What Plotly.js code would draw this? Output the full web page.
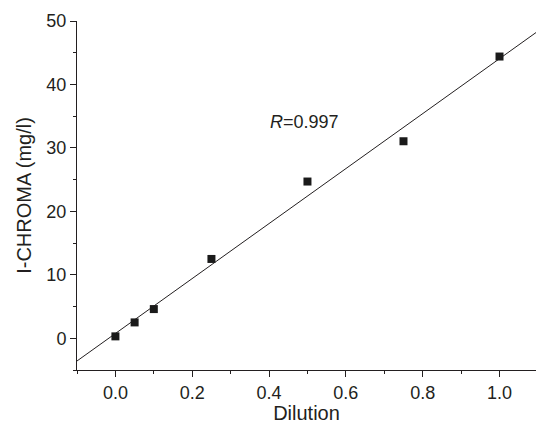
<!DOCTYPE html>
<html>
<head>
<meta charset="utf-8">
<script src="https://cdn.plot.ly/plotly-3.0.1.min.js"></script>
<style>html,body{margin:0;padding:0;background:#fff;}#chart{width:536px;height:424px;}</style>
</head>
<body>
<div id="chart"></div>
<script>
// Data
const dilution = [0, 0.05, 0.1, 0.25, 0.5, 0.75, 1.0];
const chroma = [0.3, 2.5, 4.6, 12.5, 24.7, 31.05, 44.4];
const fitSpan = [-0.1, 1.1];
const rLabel = "<i>R</i>=0.997";

// least-squares fit of the data
const n = dilution.length;
const mx = dilution.reduce((a, b) => a + b, 0) / n;
const my = chroma.reduce((a, b) => a + b, 0) / n;
let sxy = 0, sxx = 0;
for (let i = 0; i < n; i++) {
  sxy += (dilution[i] - mx) * (chroma[i] - my);
  sxx += (dilution[i] - mx) * (dilution[i] - mx);
}
const slope = sxy / sxx;
const intercept = my - slope * mx;
const fitY = fitSpan.map(x => intercept + slope * x);

const ink = '#231f20';
const font = {family: '"Liberation Sans", Arial, sans-serif', color: ink};

const traces = [
  {x: fitSpan, y: fitY, mode: 'lines', line: {color: ink, width: 1}, hoverinfo: 'skip'},
  {x: dilution, y: chroma, mode: 'markers', marker: {symbol: 'square', size: 8, color: '#1a1a1a'}, cliponaxis: false}
];

const layout = {
  width: 536, height: 424,
  margin: {l: 77, r: 0, t: 21, b: 54},
  paper_bgcolor: '#fff', plot_bgcolor: '#fff',
  showlegend: false,
  font: Object.assign({size: 18}, font),
  xaxis: {
    range: [-0.1, 1.095], showgrid: false, zeroline: false,
    showline: true, linecolor: ink, linewidth: 1,
    ticks: 'outside', ticklen: 6, tickcolor: ink, tickwidth: 1,
    tickvals: [0, 0.2, 0.4, 0.6, 0.8, 1.0], ticktext: ['0.0', '0.2', '0.4', '0.6', '0.8', '1.0'],
    minor: {tickvals: [-0.1, 0.1, 0.3, 0.5, 0.7, 0.9], ticks: 'outside', ticklen: 3, tickcolor: ink, tickwidth: 1},
    tickfont: Object.assign({size: 18}, font),
    title: {text: 'Dilution', font: Object.assign({size: 20}, font), standoff: 6},
    automargin: false
  },
  yaxis: {
    range: [-5, 50], showgrid: false, zeroline: false,
    showline: true, linecolor: ink, linewidth: 1,
    ticks: 'outside', ticklen: 6, tickcolor: ink, tickwidth: 1,
    tickvals: [0, 10, 20, 30, 40, 50],
    minor: {tickvals: [-5, 5, 15, 25, 35, 45], ticks: 'outside', ticklen: 3, tickcolor: ink, tickwidth: 1},
    tickfont: Object.assign({size: 18}, font),
    title: {text: 'I-CHROMA (mg/l)', font: Object.assign({size: 20}, font), standoff: 9},
    automargin: false
  },
  annotations: [{
    x: 0.491, y: 34.1, xref: 'x', yref: 'y', text: rLabel, showarrow: false,
    font: Object.assign({size: 18}, font)
  }]
};

Plotly.newPlot('chart', traces, layout, {displayModeBar: false, staticPlot: true});
</script>
</body>
</html>
